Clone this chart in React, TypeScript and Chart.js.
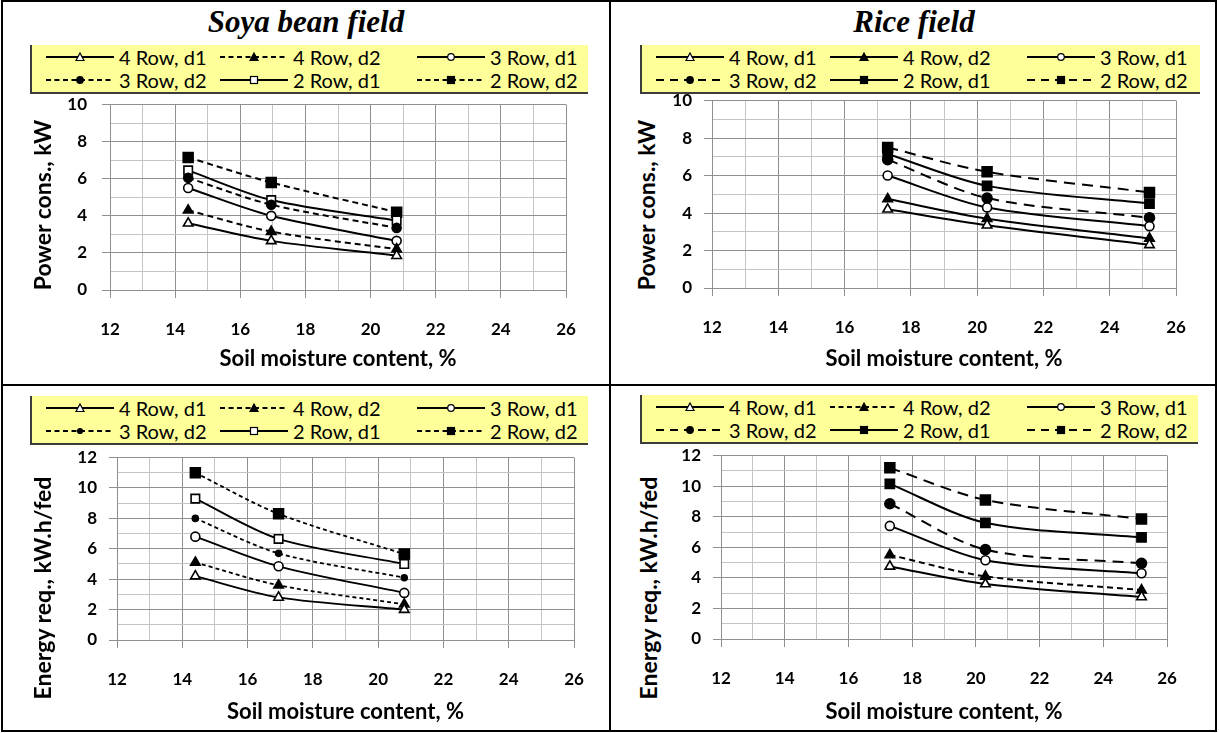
import React, { useEffect, useRef } from 'react';
import { Chart, registerables } from 'chart.js';
Chart.register(...registerables);

// ---------- data ----------
const seriesNames = ['4 Row, d1', '4 Row, d2', '3 Row, d1', '3 Row, d2', '2 Row, d1', '2 Row, d2'];
const panelTitles = ['Soya bean field', 'Rice field'];
const xAxisTitle = 'Soil moisture content, %';
const powerAxisTitle = 'Power cons., kW';
const energyAxisTitle = 'Energy req., kW.h/fed';
const xTickLabels = [12, 14, 16, 18, 20, 22, 24, 26];
const powerTickLabels = [0, 2, 4, 6, 8, 10];
const energyTickLabels = [0, 2, 4, 6, 8, 10, 12];

const soyaMoisture = [14.4, 16.95, 20.8];
const riceMoisture = [17.3, 20.3, 25.2];

const soyaPower4d1 = [3.6, 2.65, 1.85];
const soyaPower4d2 = [4.3, 3.15, 2.2];
const soyaPower3d1 = [5.5, 4.0, 2.65];
const soyaPower3d2 = [6.05, 4.6, 3.35];
const soyaPower2d1 = [6.45, 4.85, 3.75];
const soyaPower2d2 = [7.15, 5.8, 4.2];

const ricePower4d1 = [4.2, 3.35, 2.3];
const ricePower4d2 = [4.75, 3.7, 2.65];
const ricePower3d1 = [6.0, 4.3, 3.3];
const ricePower3d2 = [6.85, 4.8, 3.75];
const ricePower2d1 = [7.15, 5.45, 4.5];
const ricePower2d2 = [7.5, 6.2, 5.1];

const soyaEnergy4d1 = [4.2, 2.8, 2.0];
const soyaEnergy4d2 = [5.1, 3.6, 2.35];
const soyaEnergy3d1 = [6.8, 4.85, 3.1];
const soyaEnergy3d2 = [8.0, 5.7, 4.1];
const soyaEnergy2d1 = [9.3, 6.65, 5.0];
const soyaEnergy2d2 = [11.0, 8.3, 5.65];

const riceEnergy4d1 = [4.75, 3.6, 2.75];
const riceEnergy4d2 = [5.5, 4.1, 3.2];
const riceEnergy3d1 = [7.4, 5.15, 4.3];
const riceEnergy3d2 = [8.85, 5.85, 4.95];
const riceEnergy2d1 = [10.15, 7.6, 6.65];
const riceEnergy2d2 = [11.2, 9.1, 7.85];

// ---------- styles ----------
type Mk = 'triangle' | 'circle' | 'rect';
interface SStyle { marker: Mk; filled: boolean; dash: number[]; radius: number; width: number }
const SHORT = [6, 4];
const FINE = [4, 3];
const LONG = [11, 7];

const mk = (marker: Mk, filled: boolean, dash: number[], radius: number, width = 2): SStyle => ({ marker, filled, dash, radius, width });

const soyaPowerStyles: SStyle[] = [
  mk('triangle', false, [], 5.5), mk('triangle', true, SHORT, 5.5),
  mk('circle', false, [], 4.5), mk('circle', true, SHORT, 4.5),
  mk('rect', false, [], 6), mk('rect', true, SHORT, 7),
];
const ricePowerStyles: SStyle[] = [
  mk('triangle', false, [], 5.5), mk('triangle', true, [], 5.5),
  mk('circle', false, [], 4.5), mk('circle', true, LONG, 5),
  mk('rect', true, [], 6.5), mk('rect', true, LONG, 7),
];
const soyaEnergyStyles: SStyle[] = [
  mk('triangle', false, [], 5.5, 1.8), mk('triangle', true, FINE, 5.5, 1.8),
  mk('circle', false, [], 4.5, 1.8), mk('circle', true, FINE, 3, 1.8),
  mk('rect', false, [], 6, 1.8), mk('rect', true, FINE, 7, 1.8),
];
const riceEnergyStyles: SStyle[] = [
  mk('triangle', false, [], 5.5), mk('triangle', true, SHORT, 5.5),
  mk('circle', false, [], 4.5), mk('circle', true, LONG, 5),
  mk('rect', true, [], 6.5), mk('rect', true, LONG, 7),
];

const FONT = 'Lato, "Open Sans", sans-serif';

interface Area { L: number; R: number; T: number; B: number }
interface Box { left: number; top: number; right: number; bottom: number }

function ChartPanel(props: {
  box: Box; area: Area; xs: number[]; series: number[][]; styles: SStyle[]; yTicks: number[]; yPad: number;
}) {
  const ref = useRef<HTMLCanvasElement | null>(null);
  const { box, area, xs, series, styles, yTicks, yPad } = props;
  const w = box.right - box.left;
  const h = box.bottom - box.top;
  useEffect(() => {
    if (!ref.current) return;
    const yMax = yTicks[yTicks.length - 1];
    const xMin = xTickLabels[0];
    const xMax = xTickLabels[xTickLabels.length - 1];
    const major = (v: number) => Math.abs(v % 2) < 1e-6;
    const gridColor = (c: any) => (c.tick && major(c.tick.value) ? '#8f8f8f' : '#c4c4c4');
    const tickColor = (c: any) => (c.tick && major(c.tick.value) ? '#8f8f8f' : 'rgba(0,0,0,0)');
    const chart = new Chart(ref.current, {
      type: 'line',
      data: {
        datasets: series.map((ys, i) => {
          const st = styles[i];
          return {
            label: seriesNames[i],
            data: xs.map((x, j) => ({ x, y: ys[j] })),
            borderColor: '#000',
            borderWidth: st.width,
            borderDash: st.dash,
            pointStyle: st.marker,
            pointRadius: st.radius,
            pointBackgroundColor: st.filled ? '#000' : '#fff',
            pointBorderColor: '#000',
            pointBorderWidth: 1.6,
            tension: 0.3,
            fill: false,
          } as any;
        }),
      },
      options: {
        animation: false,
        responsive: false,
        devicePixelRatio: 1,
        layout: { padding: { left: 0, top: area.T - box.top, right: box.right - area.R, bottom: 0 } },
        plugins: { legend: { display: false }, tooltip: { enabled: false } },
        scales: {
          x: {
            type: 'linear',
            min: xMin,
            max: xMax,
            afterFit: (s: any) => {
              s.height = box.bottom - area.B;
              s.paddingLeft = 0; s.paddingRight = 0; s.paddingTop = 0; s.paddingBottom = 0;
            },
            ticks: {
              stepSize: 1,
              maxTicksLimit: 100,
              autoSkip: false,
              maxRotation: 0,
              padding: 21,
              color: '#000',
              font: { family: FONT, size: 17, weight: 'bold' },
              callback: (v: any) => (xTickLabels.includes(Number(v)) ? String(v) : ''),
            },
            grid: { color: gridColor, tickColor, tickLength: 8, lineWidth: 1 },
            border: { color: '#8f8f8f', width: 1 },
            title: {
              display: true,
              text: xAxisTitle,
              color: '#000',
              padding: { top: 0, bottom: 0 },
              font: { family: FONT, size: 22, weight: 'bold' },
            },
          },
          y: {
            type: 'linear',
            min: 0,
            max: yMax,
            afterFit: (s: any) => {
              s.width = area.L - box.left;
              s.paddingLeft = 0; s.paddingRight = 0; s.paddingTop = 0; s.paddingBottom = 0;
            },
            ticks: {
              stepSize: 1,
              maxTicksLimit: 100,
              autoSkip: false,
              padding: yPad,
              color: '#000',
              font: { family: FONT, size: 17, weight: 'bold' },
              callback: (v: any) => (yTicks.includes(Number(v)) ? String(v) : ''),
            },
            grid: { color: gridColor, tickColor, tickLength: 8, lineWidth: 1 },
            border: { color: '#8f8f8f', width: 1 },
          },
        },
      } as any,
    });
    return () => chart.destroy();
  }, []);
  return (
    <canvas
      ref={ref}
      width={w}
      height={h}
      style={{ position: 'absolute', left: box.left, top: box.top, width: w, height: h }}
    />
  );
}

function LegendSample({ st, width }: { st: SStyle; width: number }) {
  const h = 14, cy = 7, cx = width / 2;
  const fill = st.filled ? '#000' : '#fff';
  let marker: React.ReactNode;
  if (st.marker === 'triangle') {
    marker = <polygon points={`${cx - 4},${cy + 3.5} ${cx + 4},${cy + 3.5} ${cx},${cy - 4}`} fill={fill} stroke="#000" strokeWidth={1.2} />;
  } else if (st.marker === 'circle') {
    const r = st.radius < 4 ? 2.5 : 3.3;
    marker = <circle cx={cx} cy={cy} r={r} fill={fill} stroke="#000" strokeWidth={1.2} />;
  } else {
    marker = <rect x={cx - 3.5} y={cy - 3.5} width={7} height={7} fill={fill} stroke="#000" strokeWidth={1.2} />;
  }
  const dash = st.dash.length ? (st.dash === LONG ? '8 6' : '5 3.5') : undefined;
  return (
    <svg width={width} height={h} style={{ display: 'block' }}>
      <line x1={0} y1={cy} x2={width} y2={cy} stroke="#000" strokeWidth={2} strokeDasharray={dash} />
      {marker}
    </svg>
  );
}

function LegendBox({ left, top, width, styles }: { left: number; top: number; width: number; styles: SStyle[] }) {
  const cols = [14, 188, 385];
  const rows = [12, 35];
  return (
    <div
      style={{
        position: 'absolute', left, top, width, height: 49, background: '#ffff99',
        borderLeft: '2px solid #3c3c3c', borderBottom: '2px solid #3c3c3c', boxSizing: 'border-box',
      }}
    >
      {seriesNames.map((name, i) => (
        <div
          key={name}
          style={{
            position: 'absolute', left: cols[i % 3], top: rows[Math.floor(i / 3)] - 10, height: 20,
            display: 'flex', alignItems: 'center', gap: 5, whiteSpace: 'nowrap',
            fontFamily: FONT, fontSize: 20, color: '#000',
          }}
        >
          <LegendSample st={styles[i]} width={68} />
          <span>{name}</span>
        </div>
      ))}
    </div>
  );
}

function YTitle({ text, cx, cy }: { text: string; cx: number; cy: number }) {
  return (
    <div
      style={{
        position: 'absolute', left: cx, top: cy, transform: 'translate(-50%, -50%) rotate(-90deg)',
        whiteSpace: 'nowrap', fontFamily: FONT, fontWeight: 'bold', fontSize: 23, color: '#000',
      }}
    >
      {text}
    </div>
  );
}

function PanelTitle({ text, cx }: { text: string; cx: number }) {
  return (
    <div
      style={{
        position: 'absolute', left: cx, top: 22, transform: 'translate(-50%, -50%)', whiteSpace: 'nowrap',
        fontFamily: '"Liberation Serif", "Times New Roman", serif', fontWeight: 'bold', fontStyle: 'italic',
        fontSize: 31, color: '#000',
      }}
    >
      {text}
    </div>
  );
}

export default function App() {
  return (
    <div style={{ position: 'absolute', left: 0, top: 0, width: 1219, height: 733, background: '#fff', overflow: 'hidden' }}>
      <PanelTitle text={panelTitles[0]} cx={306} />
      <PanelTitle text={panelTitles[1]} cx={914} />

      <LegendBox left={30} top={45} width={558} styles={soyaPowerStyles} />
      <LegendBox left={640} top={45} width={560} styles={ricePowerStyles} />
      <LegendBox left={30} top={396} width={558} styles={soyaEnergyStyles} />
      <LegendBox left={640} top={395} width={558} styles={riceEnergyStyles} />

      <ChartPanel
        box={{ left: 55, top: 96, right: 600, bottom: 372 }}
        area={{ L: 110, R: 566, T: 104, B: 290 }}
        xs={soyaMoisture}
        series={[soyaPower4d1, soyaPower4d2, soyaPower3d1, soyaPower3d2, soyaPower2d1, soyaPower2d2]}
        styles={soyaPowerStyles}
        yTicks={powerTickLabels}
        yPad={15}
      />
      <ChartPanel
        box={{ left: 662, top: 92, right: 1205, bottom: 372 }}
        area={{ L: 712, R: 1176, T: 100, B: 288 }}
        xs={riceMoisture}
        series={[ricePower4d1, ricePower4d2, ricePower3d1, ricePower3d2, ricePower2d1, ricePower2d2]}
        styles={ricePowerStyles}
        yTicks={powerTickLabels}
        yPad={12}
      />
      <ChartPanel
        box={{ left: 62, top: 449, right: 600, bottom: 725 }}
        area={{ L: 117, R: 574, T: 457, B: 640 }}
        xs={soyaMoisture}
        series={[soyaEnergy4d1, soyaEnergy4d2, soyaEnergy3d1, soyaEnergy3d2, soyaEnergy2d1, soyaEnergy2d2]}
        styles={soyaEnergyStyles}
        yTicks={energyTickLabels}
        yPad={12}
      />
      <ChartPanel
        box={{ left: 666, top: 447, right: 1205, bottom: 725 }}
        area={{ L: 721, R: 1167, T: 455, B: 639 }}
        xs={riceMoisture}
        series={[riceEnergy4d1, riceEnergy4d2, riceEnergy3d1, riceEnergy3d2, riceEnergy2d1, riceEnergy2d2]}
        styles={riceEnergyStyles}
        yTicks={energyTickLabels}
        yPad={12}
      />

      <YTitle text={powerAxisTitle} cx={42} cy={205} />
      <YTitle text={powerAxisTitle} cx={646} cy={205} />
      <YTitle text={energyAxisTitle} cx={42} cy={588} />
      <YTitle text={energyAxisTitle} cx={648} cy={588} />

      {/* table borders */}
      <div style={{ position: 'absolute', left: 1, top: 0, width: 1216, height: 732, border: '2px solid #000', boxSizing: 'border-box' }} />
      <div style={{ position: 'absolute', left: 609, top: 0, width: 2, height: 732, background: '#000' }} />
      <div style={{ position: 'absolute', left: 1, top: 384, width: 1216, height: 2, background: '#000' }} />
    </div>
  );
}
